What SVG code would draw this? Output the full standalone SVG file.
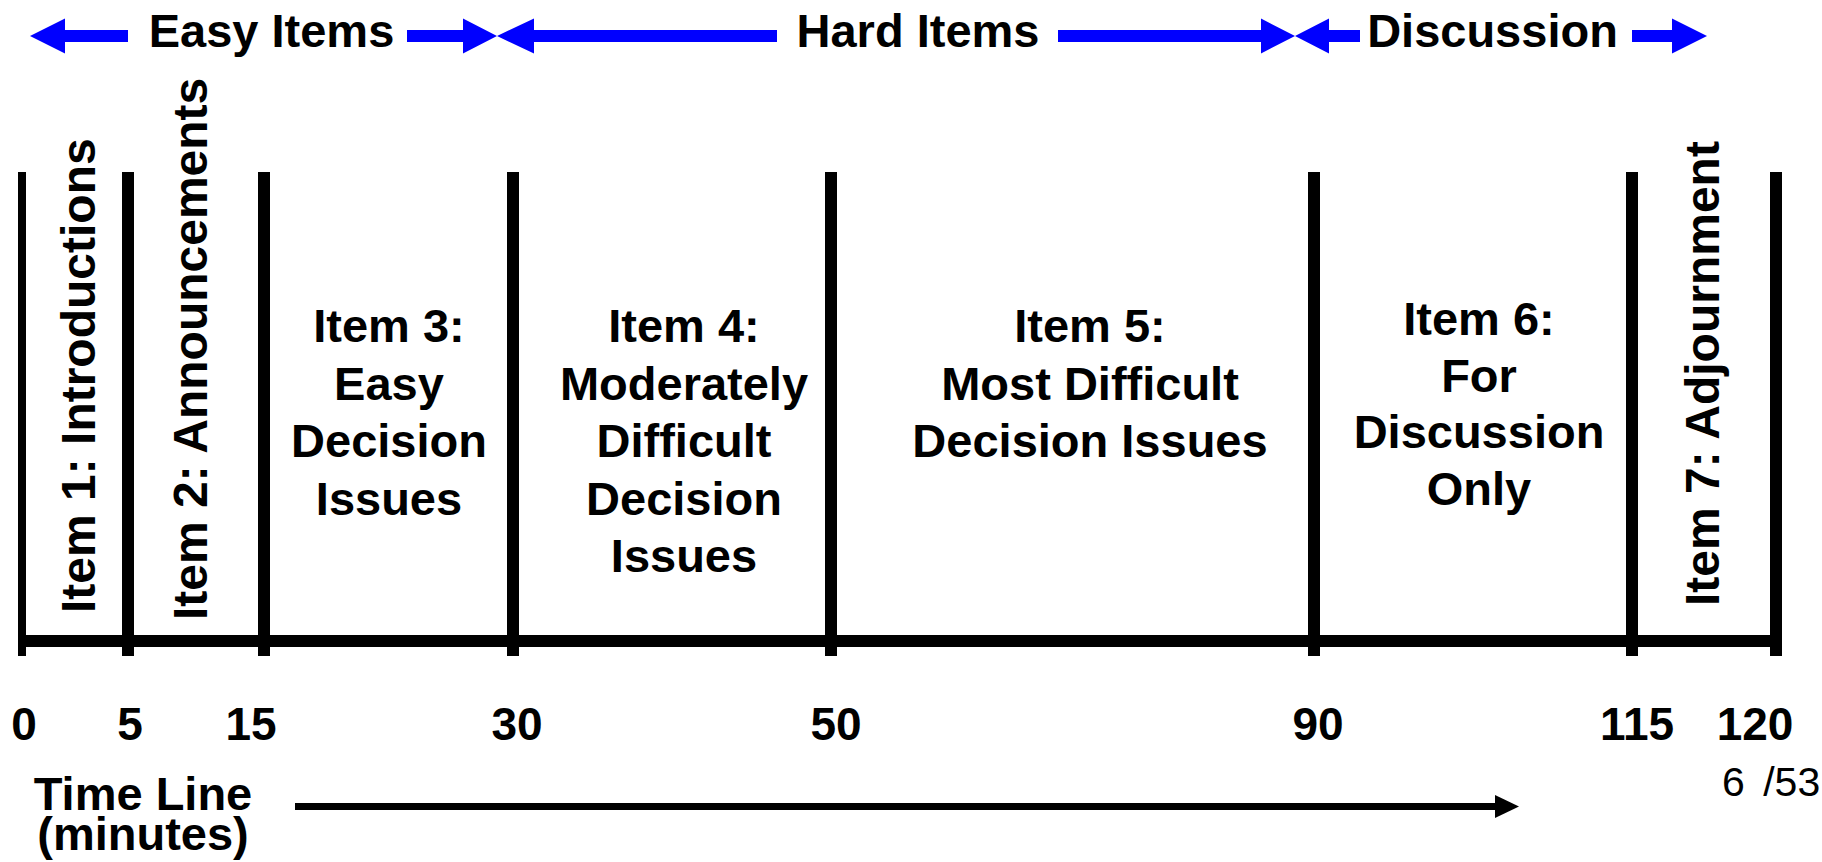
<svg xmlns="http://www.w3.org/2000/svg" width="1822" height="862" viewBox="0 0 1822 862">
  <style>
    .bold { font-family: "Liberation Sans", Arial, sans-serif; font-weight: bold; fill: #000; }
    .label { font-size: 47px; text-anchor: middle; }
    .vlabel { font-size: 48px; }
    .tick { font-size: 46px; text-anchor: middle; }
    .band { font-size: 47px; text-anchor: middle; }
    .page { font-family: "Liberation Sans", Arial, sans-serif; font-size: 41px; fill: #000; }
    .divider { stroke: #000; stroke-width: 12; }
    .blue { fill: #0000ff; }
  </style>

  <rect width="1822" height="862" fill="#fff"/>

  <!-- band arrows and time-line arrow -->
  <g id="connectors">
    <!-- Easy Items: left and right arrows -->
    <polygon class="blue" points="30,36 65,18.5 65,30 128,30 128,42 65,42 65,53.5"/>
    <polygon class="blue" points="497,36 463,18.5 463,30 407,30 407,42 463,42 463,53.5"/>
    <!-- Hard Items -->
    <polygon class="blue" points="497,36 534,18.5 534,30 777,30 777,42 534,42 534,53.5"/>
    <polygon class="blue" points="1295,36 1261,18.5 1261,30 1058,30 1058,42 1261,42 1261,53.5"/>
    <!-- Discussion -->
    <polygon class="blue" points="1295,36 1329,18.5 1329,30 1360,30 1360,42 1329,42 1329,53.5"/>
    <polygon class="blue" points="1707,36 1672,18.5 1672,30 1632,30 1632,42 1672,42 1672,53.5"/>
    <!-- time line arrow -->
    <rect x="295" y="803" width="1202" height="7" fill="#000"/>
    <polygon points="1519,806.5 1495,795 1495,818" fill="#000"/>
  </g>

  <!-- band titles -->
  <g id="bands">
    <text class="bold band" x="271.5" y="47">Easy Items</text>
    <text class="bold band" x="918" y="47">Hard Items</text>
    <text class="bold band" x="1492.5" y="47">Discussion</text>
  </g>

  <!-- time axis with dividers -->
  <g id="axis">
    <line x1="18" y1="641" x2="1782" y2="641" class="divider"/>
    <line x1="22" y1="172" x2="22" y2="656" stroke="#000" stroke-width="8"/>
    <line x1="128" y1="172" x2="128" y2="656" class="divider"/>
    <line x1="264" y1="172" x2="264" y2="656" class="divider"/>
    <line x1="513" y1="172" x2="513" y2="656" class="divider"/>
    <line x1="831" y1="172" x2="831" y2="656" class="divider"/>
    <line x1="1314" y1="172" x2="1314" y2="656" class="divider"/>
    <line x1="1632" y1="172" x2="1632" y2="656" class="divider"/>
    <line x1="1776" y1="172" x2="1776" y2="656" class="divider"/>
  </g>

  <g id="item1">
    <text class="bold vlabel" transform="translate(95,613) rotate(-90)">Item 1: Introductions</text>
  </g>
  <g id="item2">
    <text class="bold vlabel" transform="translate(207,620) rotate(-90)">Item 2: Announcements</text>
  </g>
  <g id="item3">
    <text class="bold label" x="389" y="342">Item 3:</text>
    <text class="bold label" x="389" y="400">Easy</text>
    <text class="bold label" x="389" y="457">Decision</text>
    <text class="bold label" x="389" y="515">Issues</text>
  </g>
  <g id="item4">
    <text class="bold label" x="684" y="342">Item 4:</text>
    <text class="bold label" x="684" y="400">Moderately</text>
    <text class="bold label" x="684" y="457">Difficult</text>
    <text class="bold label" x="684" y="515">Decision</text>
    <text class="bold label" x="684" y="572">Issues</text>
  </g>
  <g id="item5">
    <text class="bold label" x="1090" y="342">Item 5:</text>
    <text class="bold label" x="1090" y="400">Most Difficult</text>
    <text class="bold label" x="1090" y="457">Decision Issues</text>
  </g>
  <g id="item6">
    <text class="bold label" x="1479" y="335">Item 6:</text>
    <text class="bold label" x="1479" y="392">For</text>
    <text class="bold label" x="1479" y="448">Discussion</text>
    <text class="bold label" x="1479" y="505">Only</text>
  </g>
  <g id="item7">
    <text class="bold vlabel" transform="translate(1719,606) rotate(-90)">Item 7: Adjournment</text>
  </g>

  <!-- minute marks -->
  <g id="ticks">
    <text class="bold tick" x="24" y="740">0</text>
    <text class="bold tick" x="130" y="740">5</text>
    <text class="bold tick" x="251" y="740">15</text>
    <text class="bold tick" x="517" y="740">30</text>
    <text class="bold tick" x="836" y="740">50</text>
    <text class="bold tick" x="1318" y="740">90</text>
    <text class="bold tick" x="1637" y="740">115</text>
    <text class="bold tick" x="1755" y="740">120</text>
  </g>

  <g id="timeline-label">
    <text class="bold label" x="143" y="810">Time Line</text>
    <text class="bold label" x="143" y="850">(minutes)</text>
  </g>

  <g id="page-number">
    <text class="page" x="1722" y="796">6 <tspan dx="7">/53</tspan></text>
  </g>
</svg>
